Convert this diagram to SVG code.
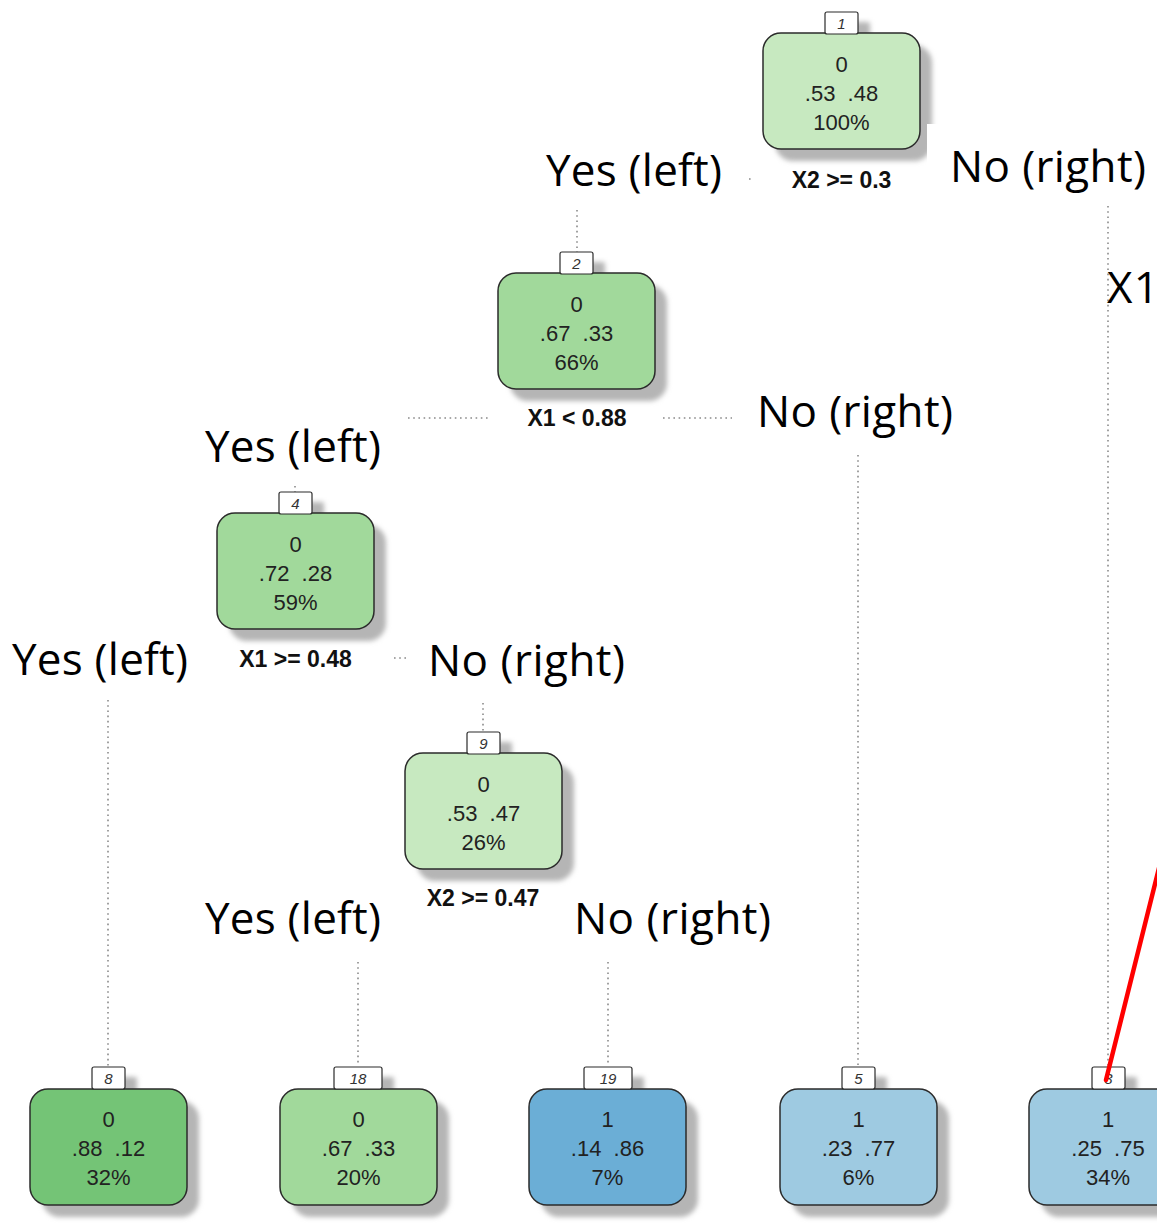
<svg xmlns="http://www.w3.org/2000/svg" width="1157" height="1225" viewBox="0 0 1157 1225">
  <defs>
    <filter id="soft" x="-20%" y="-20%" width="140%" height="140%">
      <feGaussianBlur stdDeviation="2.5"/>
    </filter>
    <style>
      .shadow { fill: #b5b5b5; filter: url(#soft); }
      .box { stroke: #2b2b2b; stroke-width: 1.5; }
      .tag { fill: #ffffff; stroke: #2b2b2b; stroke-width: 1.2; }
      .tag-t { font-family: "Liberation Sans", Arial, sans-serif; font-style: italic; font-size: 15px; fill: #333; text-anchor: middle; }
      .val { font-family: "Liberation Sans", Arial, sans-serif; font-size: 22px; fill: #222; text-anchor: middle; white-space: pre; }
      .split { font-family: "Liberation Sans", Arial, sans-serif; font-weight: bold; font-size: 23px; fill: #111; text-anchor: middle; }
      .dir { font-family: "Open Sans", "Noto Sans", sans-serif; font-size: 44px; fill: #000; }
      .g-light { fill: #c7e9c0; }
      .g-mid { fill: #a1d99b; }
      .g-dark { fill: #74c476; }
      .b-light { fill: #9ecae1; }
      .b-mid { fill: #6baed6; }
      .branch { fill: none; stroke: #8a8a8a; stroke-width: 1.6; stroke-dasharray: 1.6 3.6; }
    </style>
  </defs>

  <rect width="1157" height="1225" fill="#ffffff"/>

  <!-- branch lines -->
  <g id="connectors">
    <path class="branch" d="M749 179 H754"/>
    <path class="branch" d="M577 210 V252"/>
    <path class="branch" d="M1108 206 V1066"/>
    <path class="branch" d="M408 418 H490"/>
    <path class="branch" d="M663 418 H732"/>
    <path class="branch" d="M295 486 V492"/>
    <path class="branch" d="M858 455 V1066"/>
    <path class="branch" d="M394 658 H406"/>
    <path class="branch" d="M108 700 V1066"/>
    <path class="branch" d="M483 703 V731"/>
    <path class="branch" d="M358 962 V1066"/>
    <path class="branch" d="M608 962 V1066"/>
  </g>

  <!-- node 1 -->
  <g id="node-1">
    <rect class="shadow" x="775" y="45" width="157" height="116" rx="18"/>
    <rect class="shadow" x="837" y="22" width="33" height="22" rx="2"/>
    <rect class="box g-light" x="763" y="33" width="157" height="116" rx="18"/>
    <rect class="tag" x="825" y="12" width="33" height="22" rx="2"/>
    <text class="tag-t" x="841.5" y="29">1</text>
    <text class="val" x="841.5" y="72">0</text>
    <text class="val" x="841.5" y="101">.53  .48</text>
    <text class="val" x="841.5" y="130">100%</text>
    <text class="split" x="841.5" y="188">X2 &gt;= 0.3</text>
  </g>

  <!-- node 2 -->
  <g id="node-2">
    <rect class="shadow" x="510" y="285" width="157" height="116" rx="18"/>
    <rect class="shadow" x="572" y="262" width="33" height="22" rx="2"/>
    <rect class="box g-mid" x="498" y="273" width="157" height="116" rx="18"/>
    <rect class="tag" x="560" y="252" width="33" height="22" rx="2"/>
    <text class="tag-t" x="576.5" y="269">2</text>
    <text class="val" x="576.5" y="312">0</text>
    <text class="val" x="576.5" y="341">.67  .33</text>
    <text class="val" x="576.5" y="370">66%</text>
    <text class="split" x="577" y="426">X1 &lt; 0.88</text>
  </g>

  <!-- node 4 -->
  <g id="node-4">
    <rect class="shadow" x="229" y="525" width="157" height="116" rx="18"/>
    <rect class="shadow" x="291" y="502" width="33" height="22" rx="2"/>
    <rect class="box g-mid" x="217" y="513" width="157" height="116" rx="18"/>
    <rect class="tag" x="279" y="492" width="33" height="22" rx="2"/>
    <text class="tag-t" x="295.5" y="509">4</text>
    <text class="val" x="295.5" y="552">0</text>
    <text class="val" x="295.5" y="581">.72  .28</text>
    <text class="val" x="295.5" y="610">59%</text>
    <text class="split" x="295.5" y="667">X1 &gt;= 0.48</text>
  </g>

  <!-- node 9 -->
  <g id="node-9">
    <rect class="shadow" x="417" y="765" width="157" height="116" rx="18"/>
    <rect class="shadow" x="479" y="742" width="33" height="22" rx="2"/>
    <rect class="box g-light" x="405" y="753" width="157" height="116" rx="18"/>
    <rect class="tag" x="467" y="732" width="33" height="22" rx="2"/>
    <text class="tag-t" x="483.5" y="749">9</text>
    <text class="val" x="483.5" y="792">0</text>
    <text class="val" x="483.5" y="821">.53  .47</text>
    <text class="val" x="483.5" y="850">26%</text>
    <text class="split" x="483" y="906">X2 &gt;= 0.47</text>
  </g>

  <!-- leaf 8 -->
  <g id="node-8">
    <rect class="shadow" x="42" y="1101" width="157" height="116" rx="18"/>
    <rect class="shadow" x="104" y="1077" width="33" height="22" rx="2"/>
    <rect class="box g-dark" x="30" y="1089" width="157" height="116" rx="18"/>
    <rect class="tag" x="92" y="1067" width="33" height="22" rx="2"/>
    <text class="tag-t" x="108.5" y="1084">8</text>
    <text class="val" x="108.5" y="1127">0</text>
    <text class="val" x="108.5" y="1156">.88  .12</text>
    <text class="val" x="108.5" y="1185">32%</text>
  </g>

  <!-- leaf 18 -->
  <g id="node-18">
    <rect class="shadow" x="292" y="1101" width="157" height="116" rx="18"/>
    <rect class="shadow" x="346" y="1077" width="48" height="22" rx="2"/>
    <rect class="box g-mid" x="280" y="1089" width="157" height="116" rx="18"/>
    <rect class="tag" x="334" y="1067" width="48" height="22" rx="2"/>
    <text class="tag-t" x="358" y="1084">18</text>
    <text class="val" x="358.5" y="1127">0</text>
    <text class="val" x="358.5" y="1156">.67  .33</text>
    <text class="val" x="358.5" y="1185">20%</text>
  </g>

  <!-- leaf 19 -->
  <g id="node-19">
    <rect class="shadow" x="541" y="1101" width="157" height="116" rx="18"/>
    <rect class="shadow" x="596" y="1077" width="48" height="22" rx="2"/>
    <rect class="box b-mid" x="529" y="1089" width="157" height="116" rx="18"/>
    <rect class="tag" x="584" y="1067" width="48" height="22" rx="2"/>
    <text class="tag-t" x="608" y="1084">19</text>
    <text class="val" x="607.5" y="1127">1</text>
    <text class="val" x="607.5" y="1156">.14  .86</text>
    <text class="val" x="607.5" y="1185">7%</text>
  </g>

  <!-- leaf 5 -->
  <g id="node-5">
    <rect class="shadow" x="792" y="1101" width="157" height="116" rx="18"/>
    <rect class="shadow" x="854" y="1077" width="33" height="22" rx="2"/>
    <rect class="box b-light" x="780" y="1089" width="157" height="116" rx="18"/>
    <rect class="tag" x="842" y="1067" width="33" height="22" rx="2"/>
    <text class="tag-t" x="858.5" y="1084">5</text>
    <text class="val" x="858.5" y="1127">1</text>
    <text class="val" x="858.5" y="1156">.23  .77</text>
    <text class="val" x="858.5" y="1185">6%</text>
  </g>

  <!-- leaf 3 -->
  <g id="node-3">
    <rect class="shadow" x="1041" y="1101" width="157" height="116" rx="18"/>
    <rect class="shadow" x="1104" y="1077" width="33" height="22" rx="2"/>
    <rect class="box b-light" x="1029" y="1089" width="157" height="116" rx="18"/>
    <rect class="tag" x="1092" y="1067" width="33" height="22" rx="2"/>
    <text class="tag-t" x="1108.5" y="1084">3</text>
    <text class="val" x="1108" y="1127">1</text>
    <text class="val" x="1108" y="1156">.25  .75</text>
    <text class="val" x="1108" y="1185">34%</text>
  </g>

  <!-- branch direction captions -->
  <g id="captions">
    <rect x="927" y="124" width="230" height="78" fill="#ffffff"/>
    <text class="dir" x="546" y="186" textLength="176">Yes (left)</text>
    <text class="dir" x="950" y="182" textLength="196">No (right)</text>
    <text class="dir" x="1107" y="303" textLength="52">X1</text>
    <text class="dir" x="205" y="462" textLength="176">Yes (left)</text>
    <text class="dir" x="757" y="427" textLength="196">No (right)</text>
    <text class="dir" x="12" y="675" textLength="176">Yes (left)</text>
    <text class="dir" x="428" y="676" textLength="197">No (right)</text>
    <text class="dir" x="205" y="934" textLength="176">Yes (left)</text>
    <text class="dir" x="574" y="934" textLength="197">No (right)</text>
  </g>

  <!-- pointer -->
  <g id="pointer">
    <line x1="1106" y1="1080" x2="1166" y2="840" stroke="#ff0000" stroke-width="4.5" stroke-linecap="round"/>
  </g>
</svg>
